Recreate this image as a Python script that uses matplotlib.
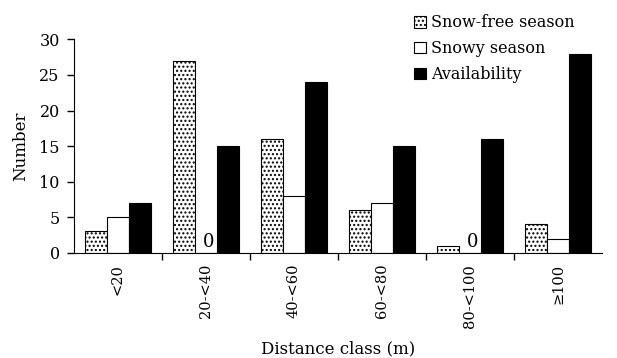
import numpy as np
import matplotlib.pyplot as plt
import matplotlib.ticker as mticker

plt.rcParams['font.family'] = ['DejaVu Serif']
plt.rcParams['hatch.linewidth'] = 1.0

# data
classes = ['<20', '20-<40', '40-<60', '60-<80', '80-<100', '≥100']
snow_free = [3, 27, 16, 6, 1, 4]
snowy = [5, 0, 8, 7, 0, 2]
availability = [7, 15, 24, 15, 16, 28]

fig = plt.figure(figsize=(6.17, 3.58), dpi=100)
ax = fig.add_axes([0.1194, 0.294, 0.8563, 0.596])

x = np.arange(len(classes))
w = 0.25
ax.bar(x - w, snow_free, w, color='white', edgecolor='black', hatch='....',
       linewidth=0.8, label='Snow-free season')
ax.bar(x, snowy, w, color='white', edgecolor='black', linewidth=0.8,
       label='Snowy season')
ax.bar(x + w, availability, w, color='black', edgecolor='black', linewidth=0.8,
       label='Availability')

# zero labels
for xi, v in zip(x, snowy):
    if v == 0:
        ax.text(xi + 0.03, 0.25, '0', ha='center', va='bottom', fontsize=13)

ax.set_xlim(-0.5, len(classes) - 0.5)
ax.set_ylim(0, 30)
ax.set_yticks(range(0, 31, 5))
ax.set_xticks(x)
ax.set_xticklabels(classes, rotation=90)
ax.xaxis.set_minor_locator(mticker.FixedLocator(x[:-1] + 0.5))
ax.tick_params(axis='x', which='major', length=0, pad=8, labelsize=10.5)
ax.tick_params(axis='x', which='minor', length=5, direction='out', width=1)
ax.tick_params(axis='y', length=5, width=1, pad=5, labelsize=11.5)

ax.spines['top'].set_visible(False)
ax.spines['right'].set_visible(False)

ax.set_ylabel('Number', fontsize=12, labelpad=7)
ax.set_xlabel('Distance class (m)', fontsize=12, labelpad=9)

fig.legend(loc='upper left', bbox_to_anchor=(0.648, 1.0), frameon=False,
           fontsize=11.5, handlelength=0.75, handleheight=0.75,
           handletextpad=0.3, labelspacing=0.55)

fig.savefig('out.png', dpi=100)
